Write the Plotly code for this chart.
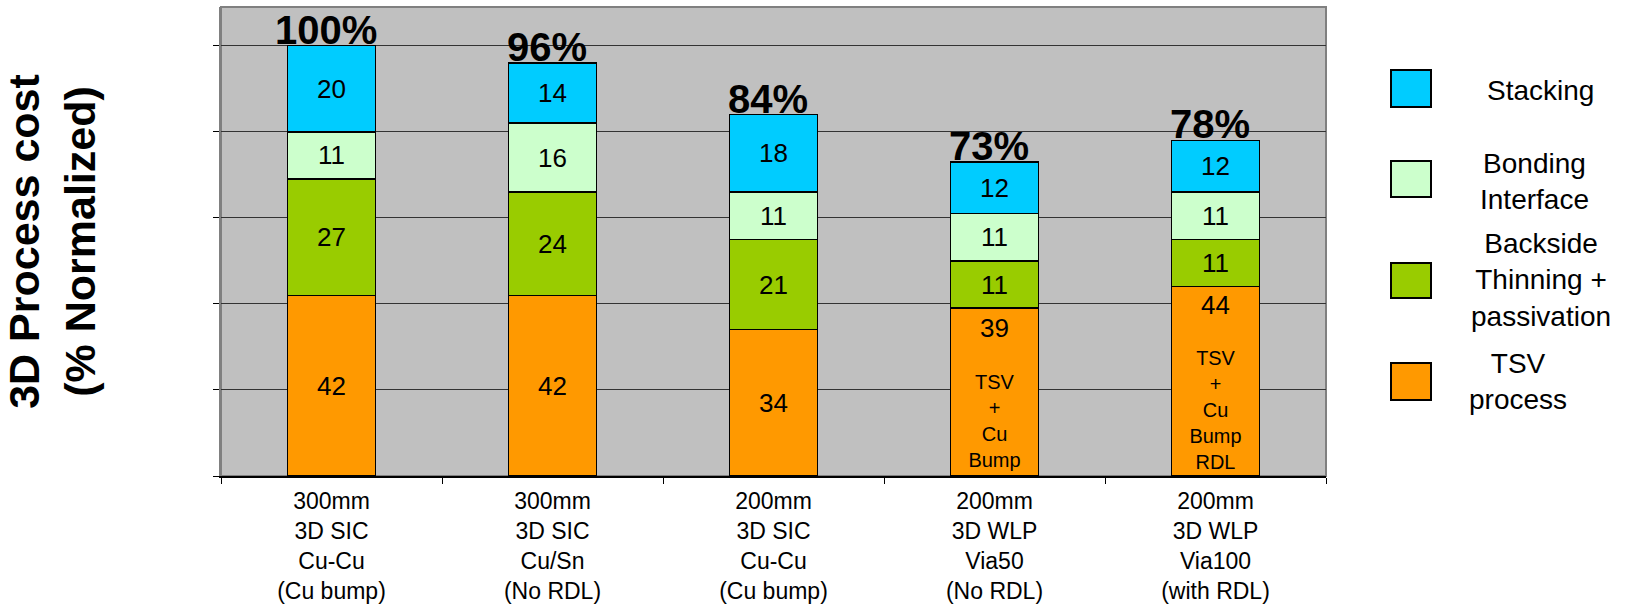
import plotly.graph_objects as go

# ---------------- data ----------------
categories = [
    "300mm<br>3D SIC<br>Cu-Cu<br>(Cu bump)",
    "300mm<br>3D SIC<br>Cu/Sn<br>(No RDL)",
    "200mm<br>3D SIC<br>Cu-Cu<br>(Cu bump)",
    "200mm<br>3D WLP<br>Via50<br>(No RDL)",
    "200mm<br>3D WLP<br>Via100<br>(with RDL)",
]
tsv_process = [42, 42, 34, 39, 44]
backside_thinning = [27, 24, 21, 11, 11]
bonding_interface = [11, 16, 11, 11, 11]
stacking = [20, 14, 18, 12, 12]
tsv_notes = ["", "", "", "TSV<br>+<br>Cu<br>Bump", "TSV<br>+<br>Cu<br>Bump<br>RDL"]

series_names = ["TSV<br>process", "Backside<br>Thinning +<br>passivation", "Bonding<br>Interface", "Stacking"]
series_values = [tsv_process, backside_thinning, bonding_interface, stacking]
series_colors = ["#FF9900", "#99CC00", "#CCFFCC", "#00CCFF"]

y_ticks = [0, 20, 40, 60, 80, 100]
y_title = "3D Process cost<br>(% Normalized)"

totals = [sum(v) for v in zip(*series_values)]

# ---------------- layout constants ----------------
W, H = 1628, 609
PL, PR, PT, PB = 221, 1326, 7, 476
FONT = "Arial, Liberation Sans, sans-serif"


def px_x(x):
    return (x - PL) / (PR - PL)


def px_y(y):
    return (PB - y) / (PB - PT)


fig = go.Figure()

for si, (name, vals, col) in enumerate(zip(series_names, series_values, series_colors)):
    if si == 0:
        texts = []
        sizes = []
        for v, note in zip(vals, tsv_notes):
            if note:
                texts.append(f"<span style='font-size:26px'>{v}</span><br><br>{note}")
                sizes.append(20)
            else:
                texts.append(str(v))
                sizes.append(26)
    else:
        texts = [str(v) for v in vals]
        sizes = [26] * len(vals)
    fig.add_trace(go.Bar(
        x=categories, y=vals, name=name,
        marker=dict(color=col, line=dict(color="black", width=1.5)),
        width=0.4,
        text=texts, textposition="inside", insidetextanchor="middle",
        textangle=0, textfont=dict(family=FONT, size=sizes, color="black"),
        showlegend=False, hoverinfo="skip",
    ))

# percentage labels on top of bars
for c, t in zip(categories, totals):
    fig.add_annotation(
        x=c, y=t, text=f"<b>{t}%</b>", showarrow=False, yanchor="bottom",
        yshift=-8, xshift=-6, font=dict(family=FONT, size=40, color="black"),
    )

# custom legend (drawn from the series lists)
sw_y = [(363, 400), (263, 298), (161, 197), (70, 107)]
txt_pos = [(1518, 381), (1541, 280), (1534, 181), (1540, 91)]
for name, col, (y0, y1), (tx, ty) in zip(series_names, series_colors, sw_y, txt_pos):
    fig.add_shape(type="rect", xref="paper", yref="paper",
                  x0=px_x(1391), x1=px_x(1431), y0=px_y(y1), y1=px_y(y0),
                  fillcolor=col, line=dict(color="black", width=2))
    fig.add_annotation(xref="paper", yref="paper", x=px_x(tx), y=px_y(ty),
                       text=name, showarrow=False, align="center",
                       xanchor="center", yanchor="middle",
                       font=dict(family=FONT, size=28, color="black"))

# plot border (gray)
fig.add_shape(type="rect", xref="paper", yref="paper", x0=0, x1=1, y0=0, y1=1,
              line=dict(color="#808080", width=2), layer="below")

fig.update_layout(
    width=W, height=H,
    barmode="stack",
    plot_bgcolor="#C0C0C0", paper_bgcolor="white",
    margin=dict(l=PL, r=W - PR, t=PT, b=H - PB, autoexpand=False),
    font=dict(family=FONT, color="black"),
    xaxis=dict(
        type="category",
        showline=True, linecolor="black", linewidth=1.5,
        ticks="outside", tickson="boundaries", ticklen=6, tickcolor="black",
        ticklabelstandoff=4,
        tickfont=dict(family=FONT, size=23, color="black"),
        showgrid=False,
    ),
    yaxis=dict(
        range=[0, 109], tickvals=y_ticks, showticklabels=False,
        ticks="outside", ticklen=6, tickcolor="black",
        showgrid=True, gridcolor="#333333", gridwidth=1,
        showline=True, linecolor="#808080", linewidth=2,
        zeroline=False,
        title=dict(text=f"<b>{y_title}</b>", standoff=106,
                   font=dict(family=FONT, size=43, color="black")),
    ),
)

fig.write_html(
    "out.html",
    config={"displayModeBar": False},
    post_script="document.body.style.margin='0';document.body.style.padding='0';",
)
